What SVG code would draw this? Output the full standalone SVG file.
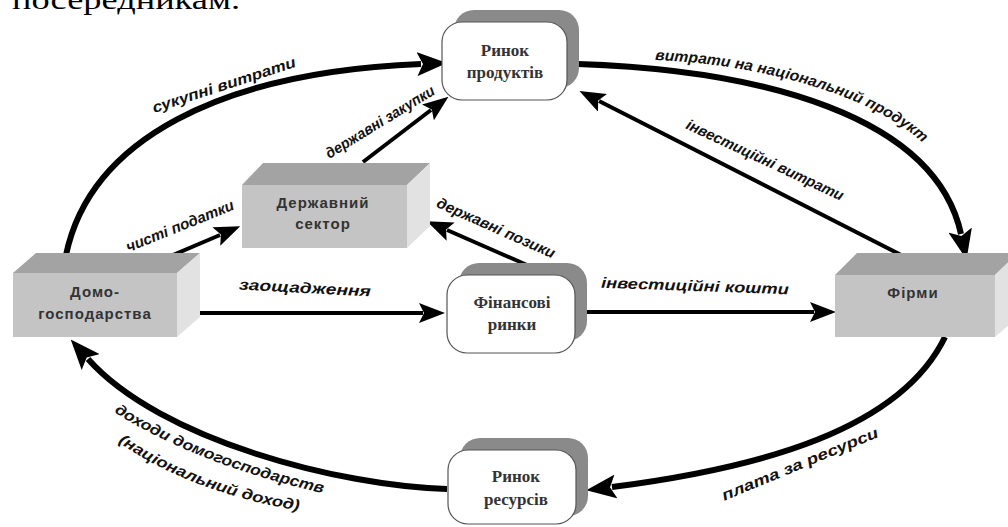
<svg xmlns="http://www.w3.org/2000/svg" width="1008" height="527" viewBox="0 0 1008 527">
<style>
.lbl{font-family:"Liberation Sans",Arial,sans-serif;font-style:italic;font-weight:bold;font-size:15px;fill:#111;}
.box{font-family:"Liberation Sans",Arial,sans-serif;font-weight:bold;font-size:15px;fill:#333;letter-spacing:1px;}
.mkt{font-family:"Liberation Serif","Times New Roman",serif;font-weight:bold;font-size:17px;fill:#333;}
.front{fill:#c4c4c4;}
.top{fill:#a3a3a3;}
.side{fill:#e2e2e2;}
.shadow{fill:#8a8a8a;}
.card{fill:#fff;stroke:#555;stroke-width:1.2;}
.thick{fill:none;stroke:#000;stroke-width:6;}
.thin{fill:none;stroke:#000;stroke-width:4;}
</style>
<defs>
<marker id="big" markerUnits="userSpaceOnUse" viewBox="0 0 30 24" markerWidth="30" markerHeight="24" refX="4" refY="12" orient="auto">
<path d="M0,0 L30,12 L0,24 L6,12 z" fill="#000"/>
</marker>
<marker id="sm" markerUnits="userSpaceOnUse" viewBox="0 0 26 20" markerWidth="26" markerHeight="20" refX="4" refY="10" orient="auto">
<path d="M0,0 L26,10 L0,20 L5,10 z" fill="#000"/>
</marker>
<path id="tp1" d="M 655,60 C 760,64 880,96 930,150"/>
<path id="tp2" d="M 114,412 C 170,448 250,478 328,494"/>
<path id="tp3" d="M 118,442 C 165,475 230,500 307,512"/>
</defs>
<rect width="1008" height="527" fill="#fff"/>
<text x="12" y="9" font-family="Liberation Serif,'Times New Roman',serif" font-size="28" textLength="228" lengthAdjust="spacingAndGlyphs" fill="#000">посередникам.</text>

<g id="connectors">
<path class="thick" d="M 66,255 C 90,140 220,72 421,64" marker-end="url(#big)"/>
<path class="thick" d="M 578,64 C 760,70 935,115 961,234" marker-end="url(#big)"/>
<path class="thick" d="M 945,337 C 900,430 760,468 612,487" marker-end="url(#big)"/>
<path class="thick" d="M 447,489 C 340,486 160,440 88,359" marker-end="url(#big)"/>
<path class="thin" d="M 152,264 L 220,235" marker-end="url(#sm)"/>
<path class="thin" d="M 363,162 L 431,110" marker-end="url(#sm)"/>
<path class="thin" d="M 527,265 L 447,230" marker-end="url(#sm)"/>
<path class="thin" d="M 185,313 L 423,313" marker-end="url(#sm)"/>
<path class="thin" d="M 575,312 L 814,312" marker-end="url(#sm)"/>
<path class="thin" d="M 907,258 L 599,101" marker-end="url(#sm)"/>

<text class="lbl" transform="translate(224,85) rotate(-18)" text-anchor="middle" dy="5" textLength="150" lengthAdjust="spacingAndGlyphs">сукупні витрати</text>
<text class="lbl" transform="translate(380,122) rotate(-31.5)" text-anchor="middle" dy="5" font-size="13" textLength="125" lengthAdjust="spacingAndGlyphs">державні закупки</text>
<text class="lbl" transform="translate(180,226) rotate(-22)" text-anchor="middle" dy="5" font-size="13" textLength="115" lengthAdjust="spacingAndGlyphs">чисті податки</text>
<text class="lbl" transform="translate(496,228) rotate(24)" text-anchor="middle" dy="5" font-size="13" textLength="128" lengthAdjust="spacingAndGlyphs">державні позики</text>
<text class="lbl" transform="translate(305,288) rotate(3)" text-anchor="middle" dy="5" textLength="132" lengthAdjust="spacingAndGlyphs">заощадження</text>
<text class="lbl" transform="translate(695,286) rotate(2)" text-anchor="middle" dy="5" textLength="188" lengthAdjust="spacingAndGlyphs">інвестиційні кошти</text>
<text class="lbl" transform="translate(765,160) rotate(25)" text-anchor="middle" dy="5" textLength="172" lengthAdjust="spacingAndGlyphs">інвестиційні витрати</text>
<text class="lbl" transform="translate(800,464) rotate(-22.5)" text-anchor="middle" dy="5" textLength="168" lengthAdjust="spacingAndGlyphs">плата за ресурси</text>
<text class="lbl" font-size="14"><textPath href="#tp1" textLength="285" lengthAdjust="spacingAndGlyphs">витрати на національний продукт</textPath></text>
<text class="lbl" font-size="14"><textPath href="#tp2" textLength="225" lengthAdjust="spacingAndGlyphs">доходи домогосподарств</textPath></text>
<text class="lbl" font-size="14"><textPath href="#tp3" textLength="195" lengthAdjust="spacingAndGlyphs">(національний доход)</textPath></text>
</g>

<g id="households">
<polygon class="top" points="13,273 36,253 200,253 177,273"/>
<polygon class="side" points="177,273 200,253 200,317 177,337"/>
<rect class="front" x="13" y="273" width="164" height="64"/>
<text class="box" x="95" y="297" text-anchor="middle">Домо-</text>
<text class="box" x="95" y="319" text-anchor="middle">господарства</text>
</g>

<g id="government">
<polygon class="top" points="242,185 263,163 430,163 407,185"/>
<polygon class="side" points="407,185 430,163 430,226 407,248"/>
<rect class="front" x="242" y="185" width="165" height="63"/>
<text class="box" x="323" y="208" text-anchor="middle">Державний</text>
<text class="box" x="323" y="229" text-anchor="middle">сектор</text>
</g>

<g id="firms">
<polygon class="top" points="835,275 857,253 1018,253 995,275"/>
<polygon class="side" points="995,275 1018,253 1018,317 995,337"/>
<rect class="front" x="835" y="275" width="160" height="62"/>
<text class="box" x="913" y="298" text-anchor="middle">Фірми</text>
</g>

<g id="product-market">
<rect class="shadow" x="454" y="10" width="125" height="78" rx="20"/>
<rect class="card" x="442" y="22" width="125" height="78" rx="20"/>
<text class="mkt" x="505" y="56" text-anchor="middle">Ринок</text>
<text class="mkt" x="505" y="78" text-anchor="middle">продуктів</text>
</g>

<g id="financial-markets">
<rect class="shadow" x="459" y="263" width="128" height="78" rx="20"/>
<rect class="card" x="447" y="275" width="128" height="78" rx="20"/>
<text class="mkt" x="512" y="308" text-anchor="middle">Фінансові</text>
<text class="mkt" x="512" y="330" text-anchor="middle">ринки</text>
</g>

<g id="resource-market">
<rect class="shadow" x="460" y="438" width="128" height="78" rx="20"/>
<rect class="card" x="448" y="450" width="128" height="74" rx="20"/>
<text class="mkt" x="516" y="482" text-anchor="middle">Ринок</text>
<text class="mkt" x="516" y="505" text-anchor="middle">ресурсів</text>
</g>
</svg>
